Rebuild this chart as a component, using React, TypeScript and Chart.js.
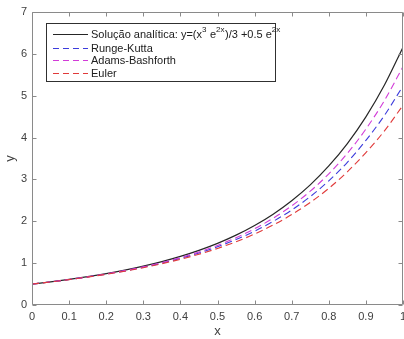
import React, { useEffect, useRef } from "react";
import { Chart, registerables } from "chart.js";

Chart.register(...registerables);

const xValues = [0, 0.05, 0.1, 0.15, 0.2, 0.25, 0.3, 0.35, 0.4, 0.45, 0.5, 0.55, 0.6, 0.65, 0.7, 0.75, 0.8, 0.85, 0.9, 0.95, 1];
const analytic = [0.5, 0.5526, 0.6111, 0.6765, 0.7499, 0.8329, 0.9275, 1.0357, 1.1603, 1.3045, 1.4724, 1.6687, 1.8991, 2.1706, 2.4912, 2.8711, 3.3218, 3.8575, 4.4949, 5.2538, 6.157];
const rungeKutta = [0.5, 0.5515, 0.608, 0.6704, 0.7394, 0.8162, 0.9034, 1.0015, 1.1139, 1.2432, 1.3914, 1.5636, 1.7643, 1.997, 2.2695, 2.5897, 2.9664, 3.41, 3.933, 4.5288, 5.2335];
const adamsBashforth = [0.5, 0.552, 0.6093, 0.6724, 0.7432, 0.8221, 0.9117, 1.014, 1.1313, 1.2667, 1.4238, 1.607, 1.8212, 2.0729, 2.3691, 2.7189, 3.1325, 3.6222, 4.2027, 4.886, 5.6952];
const euler = [0.5, 0.5504, 0.6056, 0.6664, 0.7334, 0.8079, 0.8913, 0.985, 1.0918, 1.2132, 1.3517, 1.5118, 1.6959, 1.9101, 2.1599, 2.449, 2.787, 3.1824, 3.6409, 4.161, 4.7717];

const xTicks = [0, 0.1, 0.2, 0.3, 0.4, 0.5, 0.6, 0.7, 0.8, 0.9, 1];
const yTicks = [0, 1, 2, 3, 4, 5, 6, 7];
const xTickLabels = ["0", "0.1", "0.2", "0.3", "0.4", "0.5", "0.6", "0.7", "0.8", "0.9", "1"];

const seriesLabels = [
  "Solução analítica: y=(x³ e²ˣ)/3 +0.5 e²ˣ",
  "Runge-Kutta",
  "Adams-Bashforth",
  "Euler",
];
const seriesColors = ["#262626", "#3c3cdc", "#d23cd8", "#e03a3a"];

const FONT = "'Liberation Sans', Arial, Helvetica, sans-serif";
const AXIS_COLOR = "#8a8a8a";
const LABEL_COLOR = "#404040";

const toPoints = (ys: number[]) => xValues.map((x, i) => ({ x, y: ys[i] }));

const framePlugin = {
  id: "matlabFrame",
  afterDatasetsDraw(chart: any) {
    const { ctx, chartArea: a, scales } = chart;
    const xs = scales.x;
    const ys = scales.y;
    ctx.save();
    ctx.strokeStyle = AXIS_COLOR;
    ctx.lineWidth = 1;
    ctx.beginPath();
    const L = Math.round(a.left) + 0.5;
    const R = Math.round(a.right) - 0.5;
    const T = Math.round(a.top) + 0.5;
    const B = Math.round(a.bottom) - 0.5;
    ctx.rect(L, T, R - L, B - T);
    const tl = 4;
    xTicks.forEach((v) => {
      const px = Math.round(xs.getPixelForValue(v)) + 0.5;
      ctx.moveTo(px, B);
      ctx.lineTo(px, B - tl);
      ctx.moveTo(px, T);
      ctx.lineTo(px, T + tl);
    });
    yTicks.forEach((v) => {
      const py = Math.round(ys.getPixelForValue(v)) + 0.5;
      ctx.moveTo(L, py);
      ctx.lineTo(L + tl, py);
      ctx.moveTo(R, py);
      ctx.lineTo(R - tl, py);
    });
    ctx.stroke();

    // legend
    const bx = 46.5, by = 23.5, bw = 229, bh = 58;
    ctx.fillStyle = "#ffffff";
    ctx.fillRect(bx, by, bw, bh);
    ctx.strokeStyle = "#303030";
    ctx.strokeRect(bx, by, bw, bh);
    const rows = [34, 47.5, 60, 72.5];
    const dashes = [[], [6, 4], [6, 4], [6, 4]];
    for (let i = 0; i < 4; i++) {
      const y = Math.round(rows[i]) + 0.5;
      ctx.strokeStyle = seriesColors[i];
      ctx.lineWidth = 1.2;
      ctx.setLineDash(dashes[i]);
      ctx.beginPath();
      ctx.moveTo(53, y);
      ctx.lineTo(88, y);
      ctx.stroke();
    }
    ctx.setLineDash([]);
    ctx.fillStyle = "#202020";
    ctx.textBaseline = "middle";
    ctx.textAlign = "left";
    const big = `11px ${FONT}`;
    const small = `8px ${FONT}`;
    const parts: [string, boolean][] = [
      ["Solução analítica: y=(x", false],
      ["3", true],
      [" e", false],
      ["2x", true],
      [")/3 +0.5 e", false],
      ["2x", true],
    ];
    let x = 91;
    parts.forEach(([t, sup]) => {
      ctx.font = sup ? small : big;
      ctx.fillText(t, x, sup ? rows[0] - 4 : rows[0] + 1);
      x += ctx.measureText(t).width + (sup ? 0.5 : 0);
    });
    ctx.font = big;
    for (let i = 1; i < 4; i++) {
      ctx.fillText(seriesLabels[i], 91, rows[i] + 1);
    }
    ctx.restore();
  },
};

export default function App() {
  const ref = useRef<HTMLCanvasElement | null>(null);
  useEffect(() => {
    if (!ref.current) return;
    const mk = (i: number, ys: number[], order: number, dash: number[], w: number) => ({
      label: seriesLabels[i],
      data: toPoints(ys),
      borderColor: seriesColors[i],
      backgroundColor: seriesColors[i],
      borderWidth: w,
      borderDash: dash,
      pointRadius: 0,
      fill: false,
      cubicInterpolationMode: "monotone" as const,
      order,
    });
    const chart = new Chart(ref.current, {
      type: "line",
      data: {
        datasets: [
          mk(0, analytic, 3, [], 1.2),
          mk(1, rungeKutta, 2, [7, 4], 1.1),
          mk(2, adamsBashforth, 1, [7, 4], 1.1),
          mk(3, euler, 0, [7, 4], 1.1),
        ],
      },
      options: {
        animation: false,
        responsive: false,
        layout: { padding: { top: 12, right: 1, left: 0, bottom: 0 } },
        plugins: { legend: { display: false }, tooltip: { enabled: false } },
        scales: {
          x: {
            type: "linear",
            min: 0,
            max: 1,
            grid: { display: false, drawTicks: false },
            border: { display: false },
            afterBuildTicks: (s: any) => {
              s.ticks = xTicks.map((v) => ({ value: v }));
            },
            ticks: {
              padding: 5,
              color: LABEL_COLOR,
              font: { family: FONT, size: 11 },
              maxRotation: 0,
              autoSkip: false,
              callback: (v: any) => {
                const idx = xTicks.findIndex((t) => Math.abs(t - v) < 1e-9);
                return idx >= 0 ? xTickLabels[idx] : "";
              },
            },
            title: {
              display: true,
              text: "x",
              color: LABEL_COLOR,
              font: { family: FONT, size: 13 },
              padding: { top: 1, bottom: 0 },
            },
            afterFit: (s: any) => {
              s.height = 34;
              s.paddingLeft = 0;
              s.paddingRight = 0;
            },
          },
          y: {
            type: "linear",
            min: 0,
            max: 7,
            grid: { display: false, drawTicks: false },
            border: { display: false },
            afterBuildTicks: (s: any) => {
              s.ticks = yTicks.map((v) => ({ value: v }));
            },
            ticks: {
              padding: 5,
              color: LABEL_COLOR,
              font: { family: FONT, size: 11 },
              autoSkip: false,
              callback: (v: any) => String(v),
            },
            title: {
              display: true,
              text: "y",
              color: LABEL_COLOR,
              font: { family: FONT, size: 13 },
              padding: { top: 3, bottom: 0 },
            },
            afterFit: (s: any) => {
              s.width = 32;
              s.paddingTop = 0;
              s.paddingBottom = 0;
            },
          },
        },
      },
      plugins: [framePlugin],
    });
    return () => chart.destroy();
  }, []);
  return (
    <div style={{ position: "fixed", left: 0, top: 0, width: 404, height: 339, background: "#fff" }}>
      <canvas ref={ref} width={404} height={339} style={{ display: "block" }} />
    </div>
  );
}
